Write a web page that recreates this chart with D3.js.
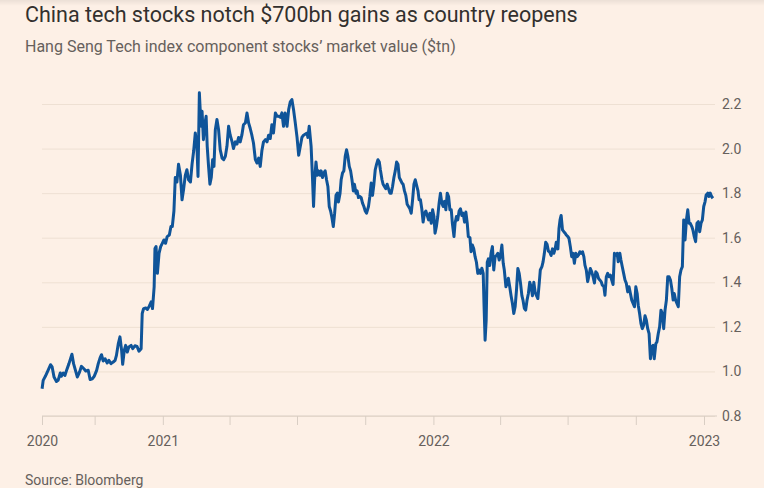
<!DOCTYPE html>
<html>
<head>
<meta charset="utf-8">
<script src="https://cdn.jsdelivr.net/npm/d3@7"></script>
<style>
  body { margin: 0; background: #fdf0e6; }
  #chart { width: 764px; height: 488px; }
  text { font-family: Roboto, "Noto Sans", sans-serif; }
</style>
</head>
<body>
<div id="chart"></div>
<script>
// dates as decimal years
const dateYears = [
  2020.555, 2020.559, 2020.567, 2020.577, 2020.586, 2020.592, 2020.599, 2020.608, 2020.614, 2020.622,
  2020.626, 2020.633, 2020.639, 2020.646, 2020.654, 2020.665, 2020.671, 2020.678, 2020.685, 2020.693,
  2020.700, 2020.709, 2020.716, 2020.725, 2020.732, 2020.740, 2020.747, 2020.756, 2020.762, 2020.769,
  2020.774, 2020.780, 2020.787, 2020.795, 2020.801, 2020.809, 2020.817, 2020.824, 2020.829, 2020.836,
  2020.842, 2020.848, 2020.852, 2020.858, 2020.863, 2020.869, 2020.875, 2020.883, 2020.889, 2020.897,
  2020.905, 2020.912, 2020.920, 2020.924, 2020.929, 2020.937, 2020.943, 2020.950, 2020.957, 2020.962,
  2020.968, 2020.971, 2020.975, 2020.980, 2020.986, 2020.992, 2020.998, 2021.004, 2021.010, 2021.016,
  2021.024, 2021.030, 2021.035, 2021.041, 2021.046,
  2021.052, 2021.058, 2021.065, 2021.071, 2021.077, 2021.083, 2021.089, 2021.095, 2021.102, 2021.108,
  2021.114, 2021.120, 2021.126, 2021.130, 2021.135, 2021.141, 2021.145, 2021.150, 2021.154, 2021.160,
  2021.164, 2021.169, 2021.174, 2021.179, 2021.184, 2021.189, 2021.194, 2021.200, 2021.206, 2021.212,
  2021.219, 2021.225, 2021.231, 2021.237, 2021.243, 2021.249, 2021.256, 2021.261, 2021.268, 2021.274,
  2021.280, 2021.286, 2021.292, 2021.298, 2021.305, 2021.311, 2021.317, 2021.323, 2021.329, 2021.335,
  2021.342, 2021.348, 2021.354, 2021.360, 2021.366, 2021.372, 2021.379, 2021.385, 2021.391, 2021.397,
  2021.403, 2021.409, 2021.416, 2021.422, 2021.428, 2021.434, 2021.440, 2021.446, 2021.452, 2021.459,
  2021.465, 2021.471, 2021.477, 2021.483, 2021.489, 2021.496, 2021.502,
  2021.514, 2021.520, 2021.533, 2021.536, 2021.541, 2021.548, 2021.553, 2021.557, 2021.561, 2021.566,
  2021.571, 2021.575, 2021.581, 2021.585, 2021.590, 2021.595, 2021.600, 2021.605, 2021.610, 2021.615,
  2021.620, 2021.625, 2021.630, 2021.635, 2021.640, 2021.645, 2021.649, 2021.655, 2021.659, 2021.664,
  2021.669, 2021.674, 2021.679, 2021.684, 2021.689, 2021.694, 2021.699, 2021.704, 2021.708, 2021.714,
  2021.718, 2021.723, 2021.728, 2021.733, 2021.738, 2021.743, 2021.748, 2021.753, 2021.760, 2021.765,
  2021.770, 2021.775, 2021.780, 2021.785, 2021.790, 2021.795, 2021.800, 2021.804, 2021.810, 2021.814,
  2021.819, 2021.824, 2021.829, 2021.834, 2021.839, 2021.844, 2021.849, 2021.854, 2021.859, 2021.864,
  2021.869, 2021.874, 2021.878, 2021.884, 2021.888, 2021.893, 2021.898, 2021.903, 2021.908, 2021.913,
  2021.918, 2021.923, 2021.928, 2021.933, 2021.937, 2021.943, 2021.947, 2021.952, 2021.957, 2021.962,
  2021.967, 2021.972, 2021.977, 2021.982, 2021.987, 2021.992, 2021.997,
  2022.002, 2022.006, 2022.011, 2022.016, 2022.021, 2022.026, 2022.031, 2022.036, 2022.041, 2022.046,
  2022.051, 2022.056, 2022.061, 2022.066, 2022.070, 2022.076, 2022.080, 2022.085, 2022.090, 2022.095,
  2022.100, 2022.105, 2022.110, 2022.115, 2022.120, 2022.125, 2022.129, 2022.135, 2022.139, 2022.144,
  2022.149, 2022.154, 2022.159, 2022.164, 2022.169, 2022.174, 2022.179, 2022.184, 2022.187, 2022.191,
  2022.195, 2022.199, 2022.203, 2022.208, 2022.213, 2022.218, 2022.223, 2022.228, 2022.233, 2022.238,
  2022.243, 2022.248, 2022.253, 2022.258, 2022.262, 2022.268, 2022.272, 2022.277, 2022.282, 2022.287,
  2022.292, 2022.297, 2022.302, 2022.307, 2022.312, 2022.317, 2022.322, 2022.327, 2022.331, 2022.336,
  2022.341, 2022.346, 2022.351, 2022.356, 2022.361, 2022.366, 2022.371, 2022.376, 2022.381, 2022.386,
  2022.391, 2022.395, 2022.401, 2022.405, 2022.410, 2022.415, 2022.420, 2022.425, 2022.430, 2022.435,
  2022.440, 2022.445, 2022.450, 2022.454, 2022.460, 2022.464, 2022.468, 2022.472, 2022.477, 2022.482,
  2022.487, 2022.491, 2022.497, 2022.501, 2022.506, 2022.511, 2022.516, 2022.521, 2022.526, 2022.531,
  2022.536, 2022.541, 2022.546, 2022.551, 2022.556, 2022.560, 2022.565, 2022.570, 2022.575, 2022.580,
  2022.585, 2022.590, 2022.595, 2022.600, 2022.605, 2022.610, 2022.615, 2022.620, 2022.624, 2022.630,
  2022.634, 2022.639, 2022.644, 2022.649, 2022.654, 2022.659, 2022.664, 2022.669, 2022.674, 2022.679,
  2022.683, 2022.689, 2022.693, 2022.698, 2022.703, 2022.708, 2022.713, 2022.718, 2022.723, 2022.728,
  2022.733, 2022.738, 2022.743, 2022.748, 2022.753, 2022.757, 2022.762, 2022.767, 2022.772, 2022.777,
  2022.782, 2022.787, 2022.792, 2022.797, 2022.802, 2022.807, 2022.812, 2022.816, 2022.822, 2022.826,
  2022.831, 2022.836, 2022.841, 2022.846, 2022.851, 2022.856, 2022.861, 2022.866, 2022.871, 2022.876,
  2022.881, 2022.886, 2022.890, 2022.895, 2022.900, 2022.905, 2022.910, 2022.915, 2022.920, 2022.925,
  2022.930, 2022.935, 2022.940, 2022.945, 2022.949, 2022.955, 2022.959, 2022.964, 2022.969, 2022.974,
  2022.979, 2022.984, 2022.989, 2022.994, 2022.999,
  2023.004, 2023.008, 2023.014, 2023.018, 2023.023, 2023.028, 2023.033
];

// market value of the index components, $tn
const marketValue = [
  0.922, 0.96, 0.978, 1.005, 1.03, 1.02, 0.975, 0.955, 0.96, 0.993,
  0.978, 0.993, 0.982, 1.008, 1.035, 1.077, 1.035, 1.005, 0.975, 0.997,
  1.023, 1.012, 1.002, 1.005, 0.964, 0.967, 0.978, 1.005, 1.035, 1.062,
  1.075, 1.047, 1.057, 1.038, 1.05, 1.035, 1.042, 1.05, 1.072, 1.125,
  1.155, 1.095, 1.032, 1.095, 1.117, 1.087, 1.11, 1.117, 1.102, 1.115,
  1.112, 1.091, 1.102, 1.26, 1.282, 1.285, 1.278, 1.293, 1.312, 1.282,
  1.38, 1.552, 1.56, 1.44, 1.53, 1.56, 1.575, 1.59, 1.575, 1.605,
  1.612, 1.65, 1.65, 1.72, 1.87,
  1.85, 1.93, 1.88, 1.77, 1.82, 1.88, 1.905, 1.86, 1.85, 1.93,
  1.99, 2.07, 2.01, 1.875, 2.25, 2.1, 2.167, 2.04, 2.1, 2.145,
  2.01, 1.92, 1.84, 1.87, 1.95, 1.92, 2.085, 2.13, 2.085, 1.995,
  1.957, 1.95, 1.965, 2.01, 2.1, 2.06, 2.03, 2.0, 2.03, 2.02,
  2.05, 2.03, 2.06, 2.107, 2.115, 2.16, 2.115, 2.09, 2.06, 2.025,
  1.95, 1.935, 1.957, 1.92, 1.99, 2.03, 2.04, 2.03, 2.06, 2.045,
  2.107, 2.07, 2.16, 2.145, 2.145, 2.14, 2.16, 2.1, 2.16, 2.1,
  2.175, 2.21, 2.22, 2.175, 2.12, 2.05, 1.97,
  2.05, 2.06, 2.07, 2.05, 2.1, 2.01, 1.87, 1.74, 1.86, 1.94,
  1.88, 1.9, 1.88, 1.9, 1.87, 1.89, 1.9, 1.86, 1.83, 1.74,
  1.72, 1.69, 1.65, 1.71, 1.79, 1.8, 1.76, 1.8, 1.86, 1.89,
  1.9, 1.965, 1.995, 1.965, 1.92, 1.9, 1.86, 1.81, 1.84, 1.8,
  1.81, 1.78, 1.785, 1.78, 1.755, 1.74, 1.72, 1.71, 1.74, 1.785,
  1.845, 1.79, 1.84, 1.905, 1.93, 1.95, 1.94, 1.905, 1.86, 1.84,
  1.83, 1.82, 1.84, 1.82, 1.8, 1.8, 1.83, 1.87, 1.9, 1.94,
  1.93, 1.87, 1.86, 1.845, 1.84, 1.81, 1.79, 1.75, 1.74, 1.73,
  1.71, 1.77, 1.84, 1.86, 1.84, 1.81, 1.77, 1.77, 1.73, 1.67,
  1.71, 1.72, 1.7, 1.68, 1.71, 1.665, 1.725,
  1.695, 1.62, 1.65, 1.695, 1.755, 1.8, 1.755, 1.74, 1.763, 1.725,
  1.8, 1.785, 1.725, 1.725, 1.665, 1.605, 1.665, 1.695, 1.68, 1.72,
  1.73, 1.7, 1.71, 1.67, 1.715, 1.665, 1.605, 1.6, 1.537, 1.567,
  1.55, 1.515, 1.49, 1.44, 1.455, 1.44, 1.463, 1.44, 1.3, 1.14,
  1.23, 1.49, 1.505, 1.475, 1.53, 1.56, 1.455, 1.515, 1.52, 1.53,
  1.5, 1.52, 1.567, 1.485, 1.455, 1.38, 1.395, 1.418, 1.38, 1.34,
  1.305, 1.26, 1.29, 1.365, 1.462, 1.44, 1.395, 1.34, 1.32, 1.283,
  1.275, 1.32, 1.35, 1.4, 1.38, 1.34, 1.4, 1.355, 1.34, 1.327,
  1.395, 1.455, 1.47, 1.49, 1.53, 1.58, 1.57, 1.54, 1.535, 1.52,
  1.55, 1.53, 1.55, 1.58, 1.55, 1.64, 1.68, 1.70, 1.635, 1.627,
  1.62, 1.612, 1.605, 1.597, 1.56, 1.515, 1.53, 1.485, 1.53, 1.515,
  1.522, 1.537, 1.53, 1.537, 1.515, 1.477, 1.455, 1.403, 1.432, 1.462,
  1.447, 1.425, 1.397, 1.447, 1.44, 1.418, 1.41, 1.403, 1.388, 1.38,
  1.342, 1.425, 1.44, 1.425, 1.432, 1.41, 1.39, 1.53, 1.522, 1.53,
  1.492, 1.53, 1.5, 1.47, 1.44, 1.41, 1.395, 1.357, 1.38, 1.35,
  1.32, 1.305, 1.29, 1.38, 1.35, 1.297, 1.26, 1.215, 1.192, 1.207,
  1.25, 1.23, 1.192, 1.17, 1.057, 1.11, 1.117, 1.057, 1.125, 1.132,
  1.17, 1.2, 1.275, 1.26, 1.192, 1.275, 1.32, 1.425, 1.425, 1.41,
  1.372, 1.32, 1.35, 1.32, 1.305, 1.29, 1.425, 1.455, 1.47, 1.68,
  1.59, 1.68, 1.725, 1.665, 1.665, 1.65, 1.635, 1.605, 1.582, 1.665,
  1.672, 1.627, 1.665, 1.68, 1.74,
  1.762, 1.792, 1.8, 1.785, 1.8, 1.785, 1.777
];

const yTicks = [0.8, 1.0, 1.2, 1.4, 1.6, 1.8, 2.0, 2.2];
const xTickDates = ["2020-07-22", "2020-10-01", "2021-01-01", "2021-04-01", "2021-07-01", "2021-10-01",
                    "2022-01-01", "2022-04-01", "2022-07-01", "2022-10-01", "2023-01-01"];
const xTickLabels = ["2020", "", "2021", "", "", "", "2022", "", "", "", "2023"];

const titleText = "China tech stocks notch $700bn gains as country reopens";
const subtitleText = "Hang Seng Tech index component stocks\u2019 market value ($tn)";
const sourceText = "Source: Bloomberg";

function yearToDate(y) {
    const yr = Math.floor(y);
    const s = new Date(yr, 0, 1), e = new Date(yr + 1, 0, 1);
    return new Date(+s + (y - yr) * (e - s));
}

const parseDate = d3.timeParse("%Y-%m-%d");
const tickDates = xTickDates.map(parseDate);

const series = dateYears.map(function(y, i) {
    return {date: yearToDate(y), value: marketValue[i]};
});

const width = 764;
const height = 488;
const margin = {top: 104, left: 42, right: 60, bottom: 72};
const gridRight = 715;

const svg = d3.select("#chart")
    .append("svg")
    .attr("width", width)
    .attr("height", height);

svg.append("rect")
    .attr("width", width)
    .attr("height", height)
    .attr("fill", "#fdf0e6");

// faint shade along the top edge
const grad = svg.append("defs").append("linearGradient")
    .attr("id", "topShade")
    .attr("x1", 0).attr("x2", 0).attr("y1", 0).attr("y2", 1);
grad.append("stop").attr("offset", 0).attr("stop-color", "#000").attr("stop-opacity", 0.07);
grad.append("stop").attr("offset", 1).attr("stop-color", "#000").attr("stop-opacity", 0);
svg.append("rect")
    .attr("width", width)
    .attr("height", 6)
    .attr("fill", "url(#topShade)");

// Scales
const xScale = d3.scaleTime()
    .domain([tickDates[0], tickDates[tickDates.length - 1]])
    .range([margin.left, width - margin.right]);

const yScale = d3.scaleLinear()
    .domain([0.8, 2.2])
    .range([height - margin.bottom, margin.top]);

// Y axis on the right, with gridlines
const yAxis = svg.append("g")
    .attr("transform", `translate(${gridRight},0)`)
    .call(d3.axisRight(yScale)
        .tickValues(yTicks)
        .tickFormat(d3.format(".1f"))
        .tickSizeInner(-(gridRight - margin.left))
        .tickSizeOuter(0)
        .tickPadding(7));

yAxis.select(".domain").remove();
yAxis.selectAll(".tick line")
    .attr("stroke", "#eee0d3")
    .attr("stroke-width", 1);
yAxis.selectAll(".tick text")
    .attr("fill", "#66605c")
    .style("font-size", "14px");

// X axis
const xAxis = svg.append("g")
    .attr("transform", `translate(0,${height - margin.bottom})`)
    .call(d3.axisBottom(xScale)
        .tickValues(tickDates)
        .tickFormat(function(d, i) { return xTickLabels[i]; })
        .tickSizeInner(9)
        .tickSizeOuter(0)
        .tickPadding(11));

xAxis.select(".domain").remove();
xAxis.selectAll(".tick line")
    .attr("stroke", "#d9cec4");
xAxis.selectAll(".tick text")
    .attr("fill", "#66605c")
    .style("font-size", "14px");

svg.append("line")
    .attr("x1", margin.left)
    .attr("x2", gridRight + 2)
    .attr("y1", yScale(0.8))
    .attr("y2", yScale(0.8))
    .attr("stroke", "#d9cec4")
    .attr("stroke-width", 1);

// Line
const line = d3.line()
    .x(function(d) { return xScale(d.date); })
    .y(function(d) { return yScale(d.value); });

svg.append("path")
    .datum(series)
    .attr("fill", "none")
    .attr("stroke", "#0f5499")
    .attr("stroke-width", 3)
    .attr("stroke-linejoin", "round")
    .attr("d", line);

// Titles
svg.append("text")
    .attr("x", 25)
    .attr("y", 22)
    .attr("fill", "#33302e")
    .style("font-size", "21.5px")
    .text(titleText);

svg.append("text")
    .attr("x", 25)
    .attr("y", 52)
    .attr("fill", "#66605c")
    .style("font-size", "16px")
    .text(subtitleText);

svg.append("text")
    .attr("x", 25)
    .attr("y", 485)
    .attr("fill", "#66605c")
    .style("font-size", "14px")
    .text(sourceText);
</script>
</body>
</html>
